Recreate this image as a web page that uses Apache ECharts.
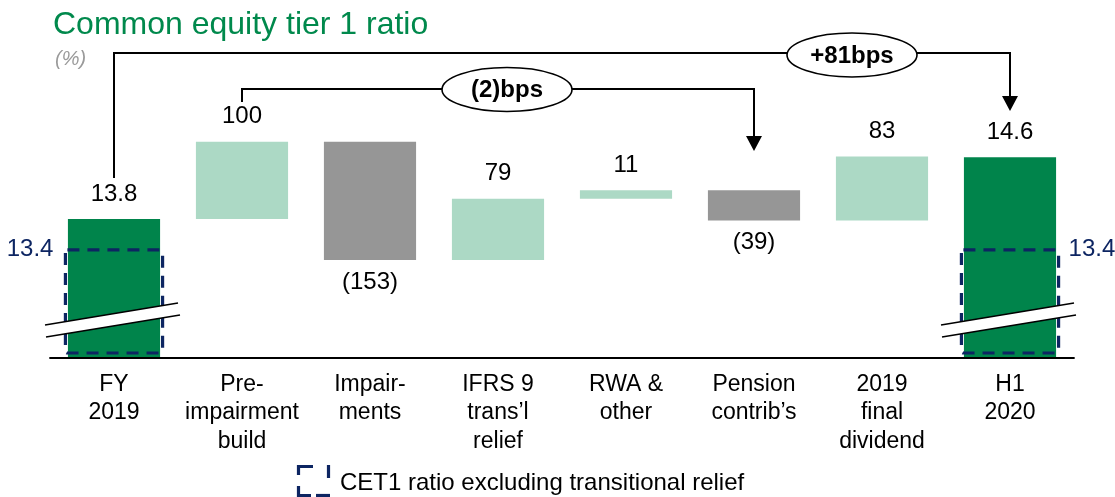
<!DOCTYPE html>
<html>
<head>
<meta charset="utf-8">
<script src="https://cdn.jsdelivr.net/npm/echarts@6/dist/echarts.min.js"></script>
<style>
  html, body { margin: 0; padding: 0; background: #fff; }
  #chart { width: 1115px; height: 497px; }
</style>
</head>
<body>
<div id="chart"></div>
<script>
// CET1 walk, FY 2019 -> H1 2020
const categories = [
  'FY\n2019',
  'Pre-\nimpairment\nbuild',
  'Impair-\nments',
  'IFRS 9\ntrans\u2019l\nrelief',
  'RWA &\nother',
  'Pension\ncontrib\u2019s',
  '2019\nfinal\ndividend',
  'H1\n2020'
];
const openingRatio = 13.8;               // FY 2019, %
const closingRatio = 14.6;               // H1 2020, %
const movementsBps = [100, -153, 79, 11, -39, 83];
const excludingRelief = [[0, 13.4], [7, 13.4]];   // [category index, %]
const axisFloor = 12;
const axisCeiling = 16;

const FONT = '"Liberation Sans", Arial, Helvetica, sans-serif';
const GREEN = '#00844b';
const LIGHT = '#acd9c5';
const GREY = '#969696';
const NAVY = '#0d2562';
const TEXT_SIZE = 24;

const fmtBps = v => (v < 0 ? '(' + (-v) + ')' : String(v));

// waterfall rows: [index, low, high, kind]  kind 0 = total, 1 = up, 2 = down
const rows = [[0, axisFloor, openingRatio, 0]];
let running = openingRatio;
movementsBps.forEach((m, k) => {
  const next = running + m / 100;
  rows.push([k + 1, Math.min(running, next), Math.max(running, next), m >= 0 ? 1 : 2]);
  running = next;
});
rows.push([categories.length - 1, axisFloor, closingRatio, 0]);

const BAR_RATIO = 0.72;

function renderBars(params, api) {
  const i = api.value(0), lo = api.value(1), hi = api.value(2), kind = api.value(3);
  const top = api.coord([i, hi]);
  const bot = api.coord([i, lo]);
  const w = api.size([1, 0])[0] * BAR_RATIO;
  const fill = kind === 0 ? GREEN : (kind === 1 ? LIGHT : GREY);
  let text, ty;
  if (kind === 0) {
    text = hi.toFixed(1); ty = top[1] - 25;
  } else {
    const m = movementsBps[i - 1];
    text = fmtBps(m);
    ty = m >= 0 ? top[1] - 25 : bot[1] + 22;
  }
  return {
    type: 'group',
    children: [
      { type: 'rect', shape: { x: top[0] - w / 2, y: top[1], width: w, height: bot[1] - top[1] },
        style: { fill: fill } },
      { type: 'text', x: top[0], y: ty,
        style: { text: text, fill: '#000', fontSize: TEXT_SIZE, fontFamily: FONT, align: 'center', verticalAlign: 'middle' } }
    ]
  };
}

function renderReliefBox(params, api) {
  const i = api.value(0), v = api.value(1);
  const top = api.coord([i, v]);
  const base = api.coord([i, axisFloor]);
  const w = api.size([1, 0])[0] * BAR_RATIO + 5;
  const onLeft = params.dataIndex === 0;
  return {
    type: 'group',
    children: [
      { type: 'rect', shape: { x: top[0] - w / 2, y: top[1], width: w, height: base[1] - 5 - top[1], r: 2 },
        style: { fill: 'none', stroke: NAVY, lineWidth: 3.2, lineDash: [12, 8] } },
      { type: 'text', x: onLeft ? top[0] - w / 2 - 12 : top[0] + w / 2 + 10, y: top[1],
        style: { text: v.toFixed(1), fill: NAVY, fontSize: TEXT_SIZE, fontFamily: FONT,
                 align: onLeft ? 'right' : 'left', verticalAlign: 'middle' } }
    ]
  };
}

function renderBreak(params, api) {
  const i = api.value(0);
  const b = api.coord([i, axisFloor]);
  const cx = b[0], c = b[1] - 38;
  const ul = [cx - 69, c + 5], ur = [cx + 64, c - 17];
  const ll = [cx - 68, c + 17], lr = [cx + 66, c - 5];
  return {
    type: 'group',
    children: [
      { type: 'polygon', shape: { points: [ul, ur, lr, ll] }, style: { fill: '#fff' } },
      { type: 'line', shape: { x1: ul[0], y1: ul[1], x2: ur[0], y2: ur[1] }, style: { stroke: '#000', lineWidth: 1.6 } },
      { type: 'line', shape: { x1: ll[0], y1: ll[1], x2: lr[0], y2: lr[1] }, style: { stroke: '#000', lineWidth: 1.6 } }
    ]
  };
}

const chart = echarts.init(document.getElementById('chart'), null, { renderer: 'canvas' });

chart.setOption({
  animation: false,
  backgroundColor: '#fff',
  textStyle: { fontFamily: FONT },
  title: [
    { text: 'Common equity tier 1 ratio', left: 48, top: 4,
      textStyle: { fontSize: 32, fontWeight: 'normal', color: '#00894c', fontFamily: FONT } },
    { text: '(%)', left: 50, top: 44,
      textStyle: { fontSize: 20, fontWeight: 'normal', fontStyle: 'italic', color: '#9a9a9a', fontFamily: FONT } }
  ],
  grid: { left: 50, right: 41, top: 49, bottom: 139 },
  xAxis: {
    type: 'category',
    data: categories,
    z: 10,
    axisLine: { lineStyle: { color: '#000', width: 1.8 } },
    axisTick: { show: false },
    axisLabel: { fontSize: 23, color: '#000', lineHeight: 28.5, margin: 12, fontFamily: FONT, interval: 0 }
  },
  yAxis: { type: 'value', min: axisFloor, max: axisCeiling, show: false },
  series: [
    { type: 'custom', name: 'walk', renderItem: renderBars, data: rows, z: 2 },
    { type: 'custom', name: 'CET1 ratio excluding transitional relief', renderItem: renderReliefBox,
      data: excludingRelief, z: 3 },
    { type: 'custom', name: 'break', renderItem: renderBreak,
      data: [[0, axisFloor], [categories.length - 1, axisFloor]], z: 4 }
  ]
});

// bracket call-outs, anchored on the category positions
const xAt = i => chart.convertToPixel({ xAxisIndex: 0 }, i);
const totalBps = movementsBps.reduce((a, b) => a + b, 0);
const preDividendBps = movementsBps.slice(0, 5).reduce((a, b) => a + b, 0);
const fmtSigned = v => (v < 0 ? '(' + (-v) + ')bps' : '+' + v + 'bps');

const x0 = xAt(0), x1 = xAt(1), x5 = xAt(5), x7 = xAt(7);
const ink = { stroke: '#000', lineWidth: 2, fill: null };
const bubbleText = (cx, cy, rx, ry, txt) => ([
  { type: 'ellipse', shape: { cx: cx, cy: cy, rx: rx, ry: ry }, style: { fill: '#fff', stroke: '#000', lineWidth: 1.6 }, z: 20 },
  { type: 'text', x: cx, y: cy + 1, style: { text: txt, fill: '#000', fontSize: TEXT_SIZE, fontWeight: 'bold', fontFamily: FONT,
      align: 'center', verticalAlign: 'middle' }, z: 21 }
]);
const legendStroke = { stroke: NAVY, lineWidth: 3.2, fill: null };

chart.setOption({
  graphic: [
    { type: 'polyline', shape: { points: [[x0, 178], [x0, 53], [x7, 53], [x7, 98]] }, style: ink, z: 15 },
    { type: 'polygon', shape: { points: [[x7 - 8, 96], [x7 + 8, 96], [x7, 111]] }, style: { fill: '#000' }, z: 15 },
    ...bubbleText(x7 - 158, 55, 65, 22, fmtSigned(totalBps)),
    { type: 'polyline', shape: { points: [[x1, 102], [x1, 89], [x5, 89], [x5, 138]] }, style: ink, z: 15 },
    { type: 'polygon', shape: { points: [[x5 - 8, 136], [x5 + 8, 136], [x5, 151]] }, style: { fill: '#000' }, z: 15 },
    ...bubbleText(x1 + 265, 89.5, 65, 22, fmtSigned(preDividendBps)),
    // legend key: broken dashed square
    { type: 'polyline', shape: { points: [[298.5, 475], [298.5, 466.5], [313, 466.5]] }, style: legendStroke, z: 15 },
    { type: 'polyline', shape: { points: [[328.5, 465], [328.5, 478]] }, style: legendStroke, z: 15 },
    { type: 'polyline', shape: { points: [[298.5, 486], [298.5, 495.5], [311, 495.5]] }, style: legendStroke, z: 15 },
    { type: 'polyline', shape: { points: [[316, 495.5], [330, 495.5]] }, style: legendStroke, z: 15 },
    { type: 'text', x: 340, y: 483, style: { text: 'CET1 ratio excluding transitional relief', fill: '#000',
      fontSize: TEXT_SIZE, fontFamily: FONT, align: 'left', verticalAlign: 'middle' }, z: 15 }
  ]
});
</script>
</body>
</html>
